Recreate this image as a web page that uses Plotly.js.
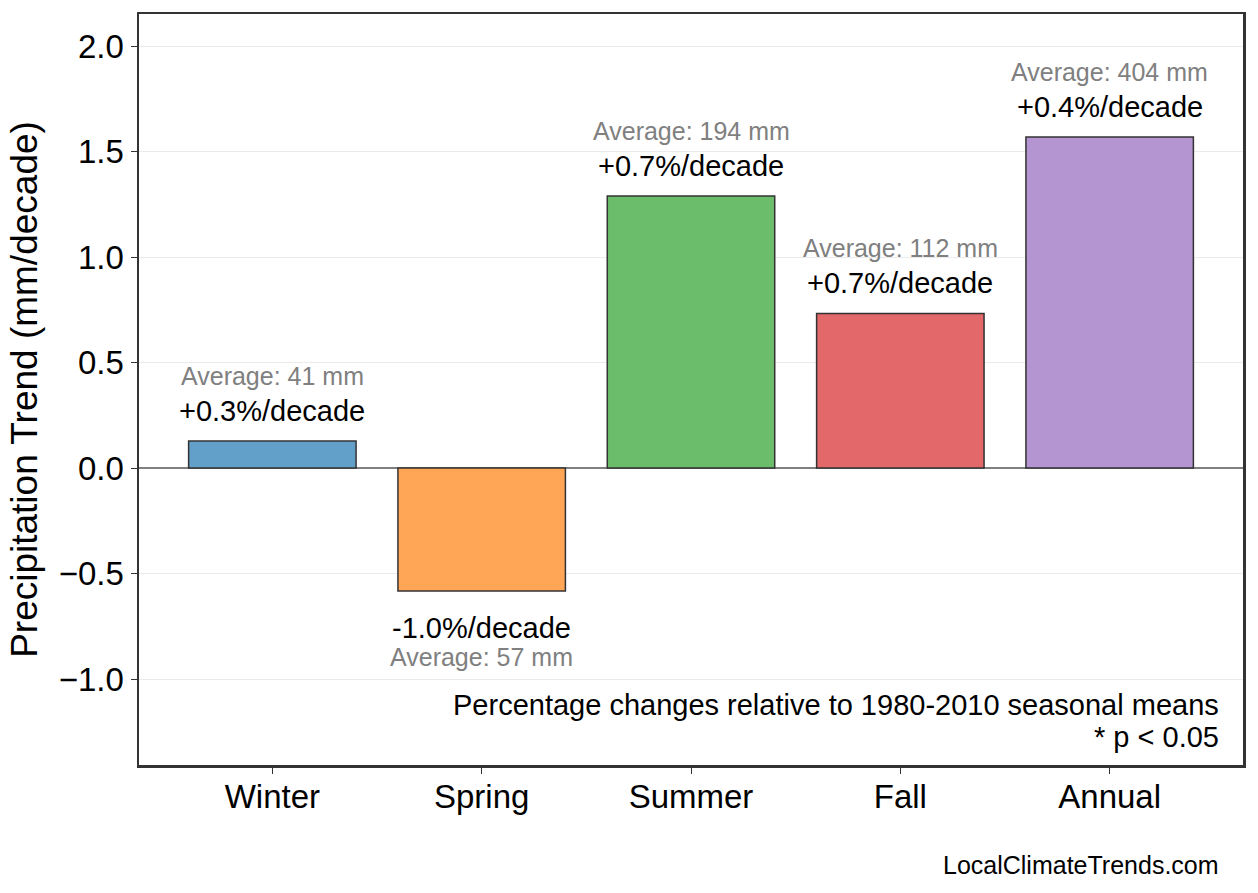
<!DOCTYPE html>
<html>
<head>
<meta charset="utf-8">
<script src="https://cdn.plot.ly/plotly-3.0.1.min.js"></script>
<style>
  body { margin: 0; background: #fff; }
  #chart { width: 1258px; height: 893px; }
</style>
</head>
<body>
<div id="chart"></div>
<script>
var seasons = ['Winter', 'Spring', 'Summer', 'Fall', 'Annual'];
var trends = [0.128, -0.583, 1.289, 0.733, 1.569];
var pctLabels = ['+0.3%/decade', '-1.0%/decade', '+0.7%/decade', '+0.7%/decade', '+0.4%/decade'];
var averages = [41, 57, 194, 112, 404];
var barColors = ['#62a0ca', '#ffa556', '#6bbc6b', '#e26869', '#b494d1'];

var FONT = 'Liberation Sans, Arial, Helvetica, sans-serif';

var trace1 =
{
    x: seasons,
    y: trends,
    type: 'bar',
    width: 0.8,
    marker: {color: barColors, line: {color: '#333333', width: 1.5}},
    hoverinfo: 'none'
};

var annots = [];
for (var iii = 0; iii < seasons.length; iii++)
{
    var up = trends[iii] >= 0;
    annots.push({
        x: seasons[iii], y: trends[iii], xref: 'x', yref: 'y',
        text: pctLabels[iii], showarrow: false,
        yanchor: 'middle', yshift: up ? 30 : -37,
        font: {family: FONT, size: 29, color: '#000000'}
    });
    annots.push({
        x: seasons[iii], y: trends[iii], xref: 'x', yref: 'y',
        text: 'Average: ' + averages[iii] + ' mm', showarrow: false,
        yanchor: 'middle', yshift: up ? 65 : -66,
        font: {family: FONT, size: 25, color: '#808080'}
    });
}
// footnote lines, bottom right of the plot
annots.push({
    x: 0.98, y: 0.0799, xref: 'paper', yref: 'paper',
    xanchor: 'right', yanchor: 'middle',
    text: 'Percentage changes relative to 1980-2010 seasonal means',
    showarrow: false,
    font: {family: FONT, size: 29, color: '#000000'}
});
annots.push({
    x: 0.98, y: 0.0373, xref: 'paper', yref: 'paper',
    xanchor: 'right', yanchor: 'middle',
    text: '* p < 0.05',
    showarrow: false,
    font: {family: FONT, size: 29, color: '#000000'}
});
annots.push({
    x: 0.98, y: -0.133, xref: 'paper', yref: 'paper',
    xanchor: 'right', yanchor: 'middle',
    text: 'LocalClimateTrends.com', showarrow: false,
    font: {family: FONT, size: 25, color: '#000000'}
});

var layout =
{
    width: 1258,
    height: 893,
    paper_bgcolor: '#ffffff',
    plot_bgcolor: '#ffffff',
    showlegend: false,
    font: {family: FONT, color: '#000000'},
    margin: {l: 139, r: 15, t: 14, b: 128},
    xaxis: {
        range: [-0.637, 4.637],
        showgrid: false, zeroline: false,
        showline: true, mirror: true, linecolor: '#333333', linewidth: 2.5,
        ticks: 'outside', ticklen: 6, tickcolor: '#333333',
        ticklabelstandoff: -5,
        tickfont: {family: FONT, size: 33, color: '#000000'}
    },
    yaxis: {
        range: [-1.407, 2.152],
        tickvals: [-1.0, -0.5, 0.0, 0.5, 1.0, 1.5, 2.0],
        ticktext: ['\u22121.0', '\u22120.5', '0.0', '0.5', '1.0', '1.5', '2.0'],
        showgrid: true, gridcolor: '#ebebeb', gridwidth: 1,
        zeroline: true, zerolinecolor: '#808080', zerolinewidth: 1.5,
        showline: true, mirror: true, linecolor: '#333333', linewidth: 2.5,
        ticks: 'outside', ticklen: 6, tickcolor: '#333333',
        layer: 'above traces',
        tickfont: {family: FONT, size: 33, color: '#000000'},
        title: {text: 'Precipitation Trend (mm/decade)', standoff: 10,
                font: {family: FONT, size: 37, color: '#000000'}}
    },
    annotations: annots
};

Plotly.newPlot('chart', [trace1], layout, {displayModeBar: false, staticPlot: true});
</script>
</body>
</html>
